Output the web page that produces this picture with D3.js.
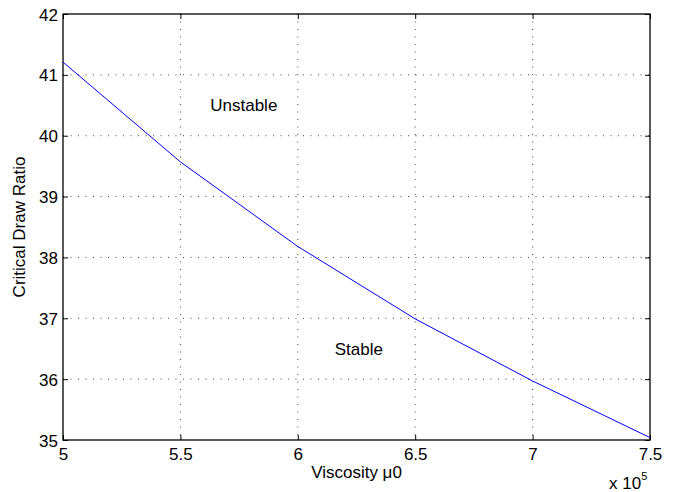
<!DOCTYPE html>
<html>
<head>
<meta charset="utf-8">
<script src="https://cdn.jsdelivr.net/npm/d3@7"></script>
<style>
  body { margin: 0; background: #fff; }
  text { font-family: "Liberation Sans", Arial, sans-serif; fill: #000; }
</style>
</head>
<body>
<svg id="chart" width="673" height="492"></svg>
<script>
// viscosity (x 10^5) and critical draw ratio
const viscosity = [5, 5.5, 6, 6.5, 7, 7.5];
const drawRatio = [41.21, 39.57, 38.18, 36.99, 35.97, 35.04];
const xTicks = [5, 5.5, 6, 6.5, 7, 7.5];
const yTicks = [35, 36, 37, 38, 39, 40, 41, 42];

const width = 673;
const height = 492;
const margin = { top: 14, right: 23, bottom: 52, left: 63 };
const innerW = width - margin.left - margin.right;
const innerH = height - margin.top - margin.bottom;
const fontSize = '17px';

const svg = d3.select('#chart');
const g = svg.append('g')
  .attr('transform', `translate(${margin.left},${margin.top})`);

const x = d3.scaleLinear().domain([5, 7.5]).range([0, innerW]);
const y = d3.scaleLinear().domain([35, 42]).range([innerH, 0]);

// dotted grid
g.append('g')
  .selectAll('line')
  .data(xTicks.slice(1, -1))
  .join('line')
    .attr('x1', (d) => x(d))
    .attr('x2', (d) => x(d))
    .attr('y1', 0)
    .attr('y2', innerH)
    .attr('stroke', '#444')
    .attr('stroke-width', 1)
    .attr('stroke-dasharray', '1,6.5');
g.append('g')
  .selectAll('line')
  .data(yTicks.slice(1, -1))
  .join('line')
    .attr('x1', 0)
    .attr('x2', innerW)
    .attr('y1', (d) => y(d))
    .attr('y2', (d) => y(d))
    .attr('stroke', '#444')
    .attr('stroke-width', 1)
    .attr('stroke-dasharray', '1,6.5');

// axes, ticks pointing inward
const xAxis = d3.axisBottom(x).tickValues(xTicks).tickSizeInner(-5).tickSizeOuter(0)
  .tickPadding(8).tickFormat(d3.format('~g'));
const yAxis = d3.axisLeft(y).tickValues(yTicks).tickSizeInner(-5).tickSizeOuter(0)
  .tickPadding(5).tickFormat(d3.format('d'));

const gx = g.append('g').attr('transform', `translate(0,${innerH})`).call(xAxis);
const gy = g.append('g').call(yAxis);
g.append('g').call(d3.axisTop(x).tickValues(xTicks).tickSizeInner(-5).tickSizeOuter(0).tickFormat(''));
g.append('g').attr('transform', `translate(${innerW},0)`)
  .call(d3.axisRight(y).tickValues(yTicks).tickSizeInner(-5).tickSizeOuter(0).tickFormat(''));

svg.selectAll('.domain').remove();
svg.selectAll('.tick line').attr('stroke', '#000');
[gx, gy].forEach((a) => a.selectAll('text')
  .style('font-size', fontSize)
  .style('font-family', '"Liberation Sans", Arial, sans-serif'));
gy.selectAll('text').attr('dy', '0.36em');

// box
g.append('rect')
  .attr('width', innerW)
  .attr('height', innerH)
  .attr('fill', 'none')
  .attr('stroke', '#000')
  .attr('stroke-width', 1.3);

// data line
const line = d3.line()
  .x((d, i) => x(viscosity[i]))
  .y((d) => y(d));
g.append('path')
  .datum(drawRatio)
  .attr('d', line)
  .attr('fill', 'none')
  .attr('stroke', '#0000ff')
  .attr('stroke-width', 1);

// region labels
g.append('text')
  .attr('x', x(5.77))
  .attr('y', y(40.5))
  .attr('dy', '0.35em')
  .attr('text-anchor', 'middle')
  .style('font-size', fontSize)
  .text('Unstable');
g.append('text')
  .attr('x', x(6.26))
  .attr('y', y(36.49))
  .attr('dy', '0.35em')
  .attr('text-anchor', 'middle')
  .style('font-size', fontSize)
  .text('Stable');

// axis titles
svg.append('text')
  .attr('x', margin.left + innerW / 2)
  .attr('y', 478)
  .attr('text-anchor', 'middle')
  .style('font-size', fontSize)
  .text('Viscosity \u03bc0');
svg.append('text')
  .attr('transform', `translate(25,${margin.top + innerH / 2}) rotate(-90)`)
  .attr('text-anchor', 'middle')
  .style('font-size', fontSize)
  .text('Critical Draw Ratio');

// exponent
const ex = svg.append('text')
  .attr('x', 609)
  .attr('y', 489)
  .style('font-size', fontSize);
ex.append('tspan').text('x 10');
ex.append('tspan').attr('dy', -9).style('font-size', '11px').text('5');
</script>
</body>
</html>
